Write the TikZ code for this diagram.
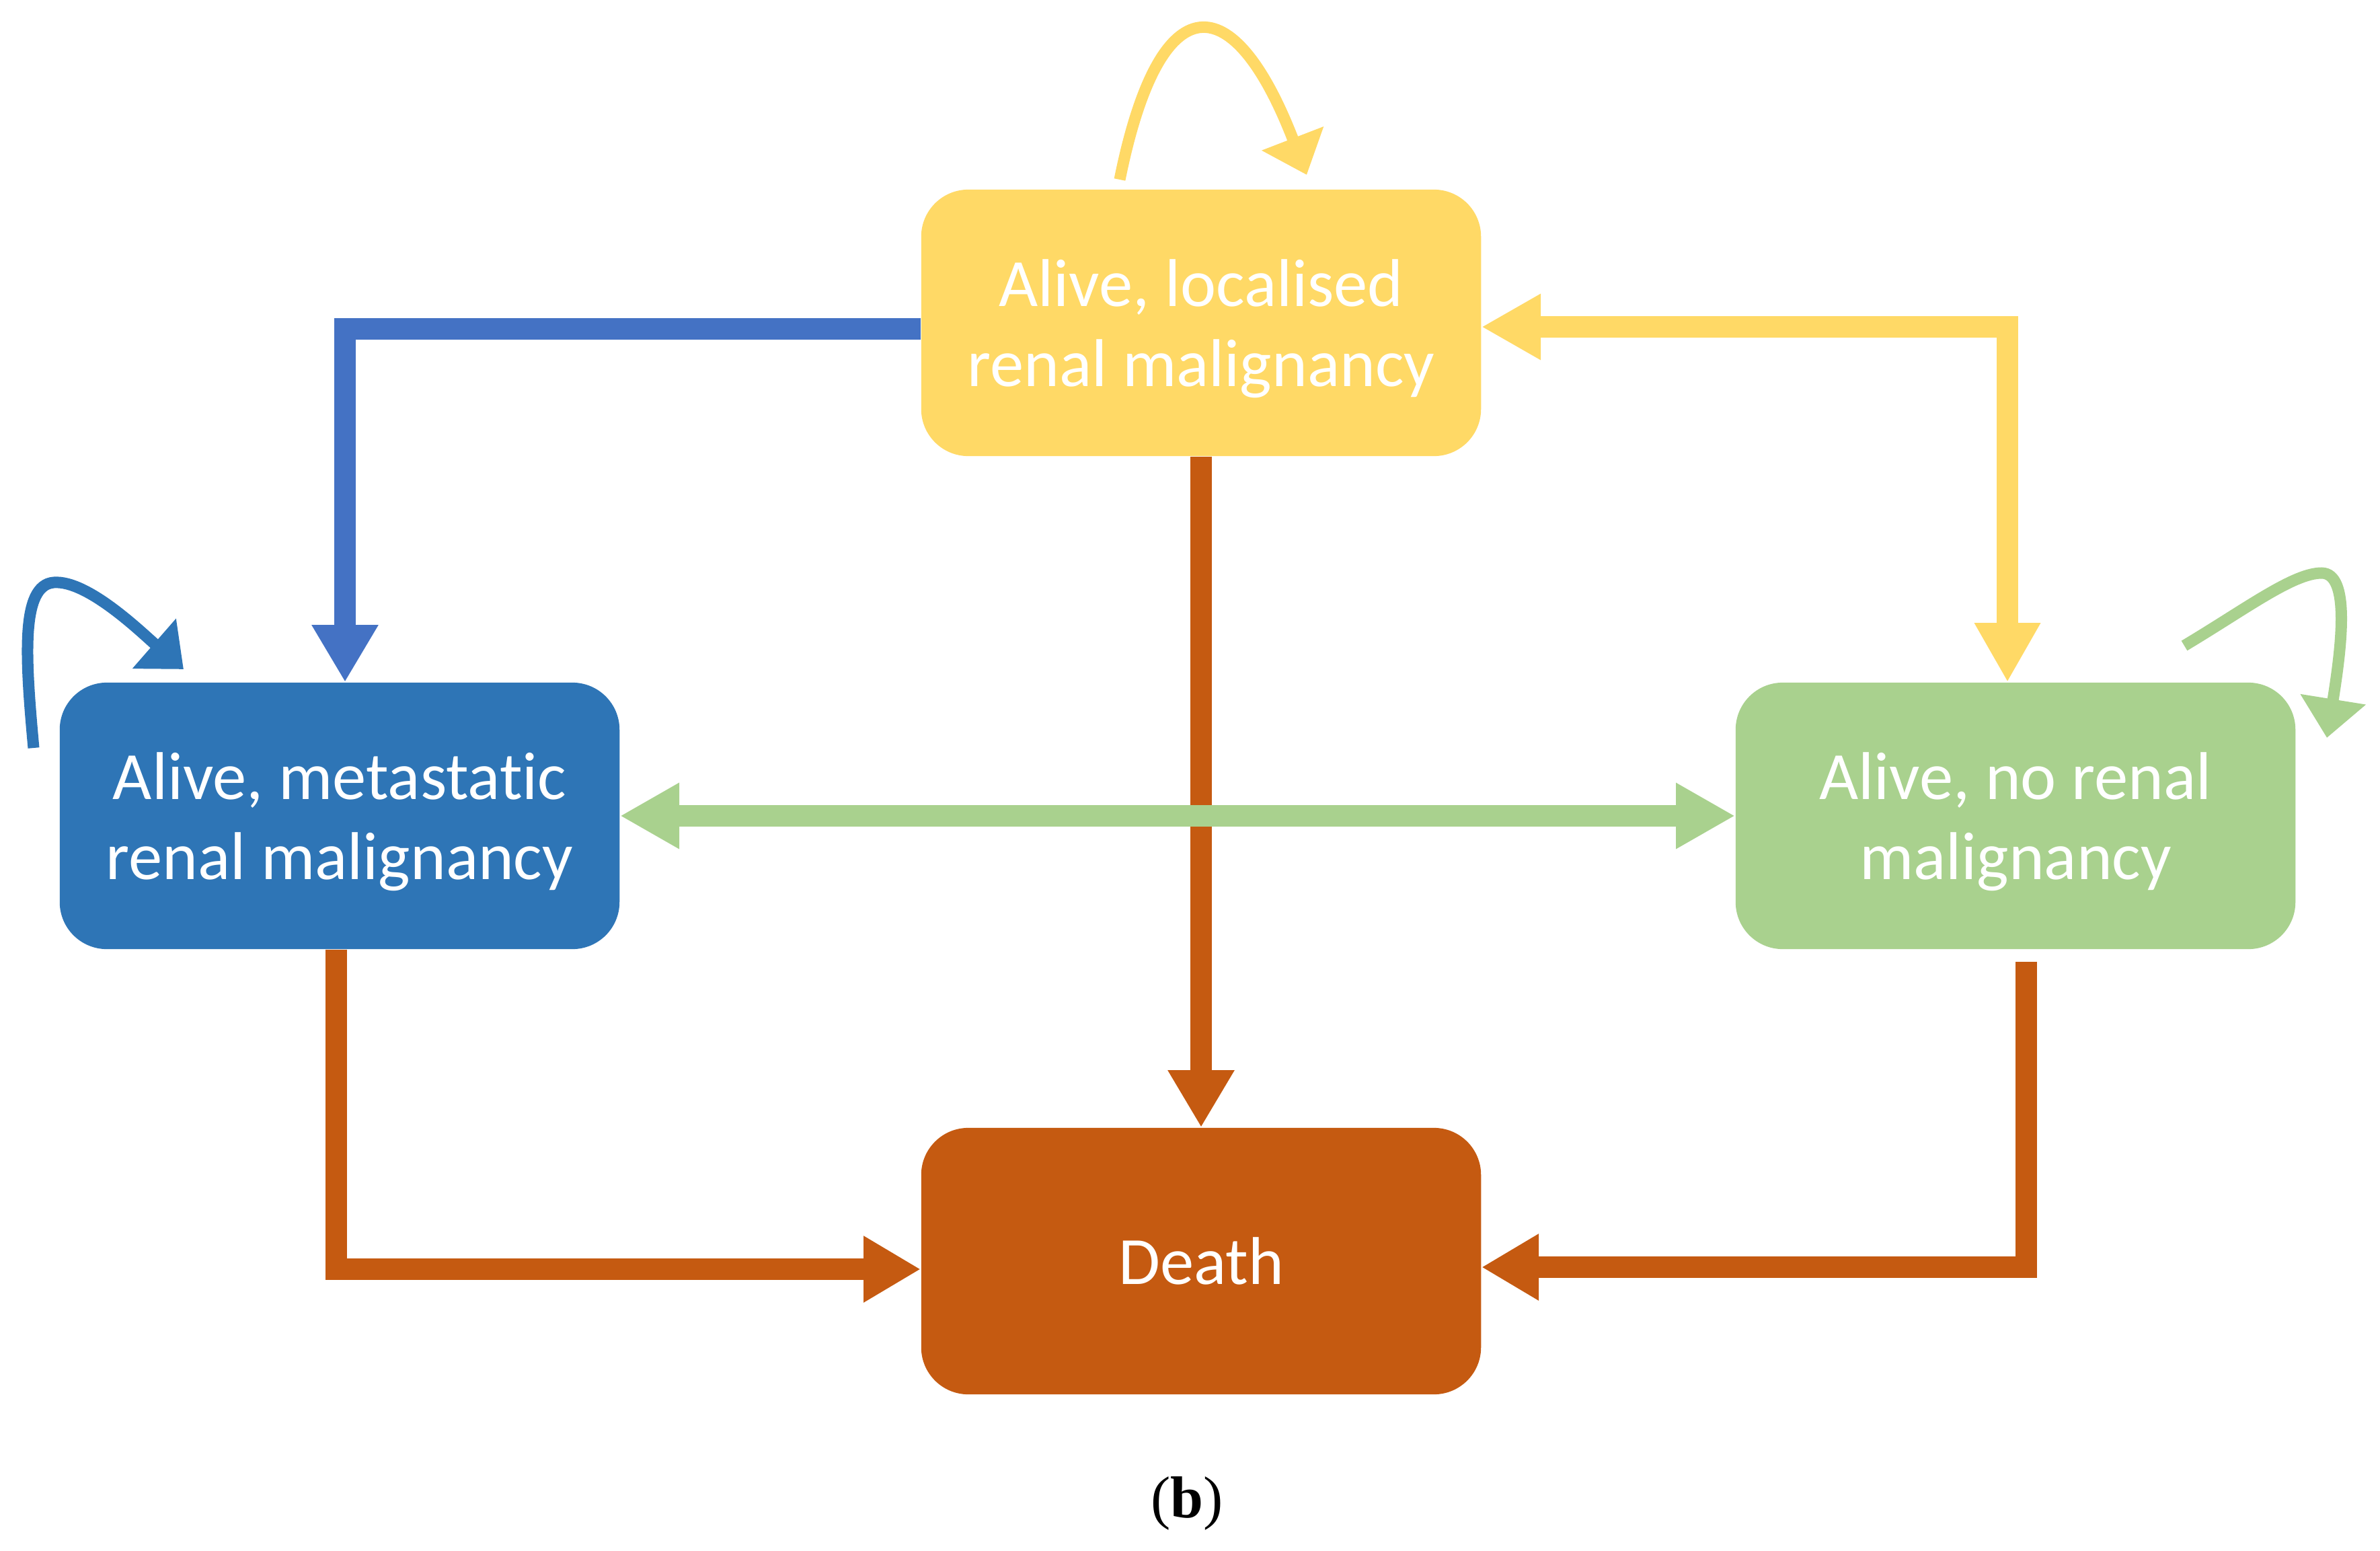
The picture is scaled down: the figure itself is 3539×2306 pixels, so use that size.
\documentclass[tikz,border=0pt]{standalone}
\usepackage{fontspec}
\setmainfont{Carlito}[Ligatures=NoCommon]
\newfontfamily\capfont{Liberation Serif}
\usetikzlibrary{arrows.meta,calc}
\definecolor{cyel}{HTML}{FFD966}
\definecolor{cblue}{HTML}{2E75B6}
\definecolor{cbline}{HTML}{4472C4}
\definecolor{cgreen}{HTML}{A9D18E}
\definecolor{corange}{HTML}{C55A11}
\newcommand{\lowstrut}{\rule{0pt}{0.87cm}}
\begin{document}
\begin{tikzpicture}[x=0.01cm,y=-0.01cm,
  state/.style={rectangle, rounded corners=0.7cm, minimum width=8.32cm, minimum height=3.96cm,
    inner sep=0pt, align=center, text=white, font=\fontsize{28.6}{34}\selectfont},
  conn/.style={line width=0.32cm, line join=miter, -{Triangle[length=0.85cm,width=0.93cm]}},
  bconn/.style={line width=0.32cm, line join=miter, {Triangle[length=0.88cm,width=0.92cm]}-{Triangle[length=0.88cm,width=0.92cm]}},
  selfloop/.style={line width=0.17cm, -{Triangle[length=0.58cm,width=0.95cm]}}
]
\useasboundingbox (0,0) rectangle (3539,2306);
\fill[white] (0,0) rectangle (3539,2306);

\node[state, fill=cyel] (Y) at (1786,480) {\lowstrut Alive, localised\\renal malignancy};
\node[state, fill=cblue] (B) at (505,1213) {\lowstrut Alive, metastatic\\renal malignancy};
\node[state, fill=cgreen] (G) at (2997,1213) {\lowstrut Alive, no renal\\malignancy};
\node[state, fill=corange] (D) at (1786,1875) {Death};

% connectors
\draw[conn, corange] (Y.south) -- (D.north);
\draw[conn, cbline] ($(Y.west)+(0,9)$) -| ($(B.north)+(8,0)$);
\draw[bconn, cyel] ($(G.north)+(-12,0)$) |- ($(Y.east)+(0,6)$);
\draw[bconn, cgreen] (B.east) -- (G.west);
\draw[conn, corange] ($(B.south)+(-5,0)$) |- ($(D.west)+(0,12)$);
\draw[conn, corange] ($(G.south)+(16,18)$) |- ($(D.east)+(0,9)$);

% self loops
\coordinate (ys) at (1665,267);
\coordinate (ye) at (1943,260);
\draw[selfloop, cyel] (ys) .. controls (1725,-30) and (1835,-20) .. (ye);
\coordinate (bs) at (50,1112);
\coordinate (bt) at (80,866);
\coordinate (be) at (273,995);
\draw[selfloop, cblue] (bs) .. controls (38,980) and (30,870) .. (bt) .. controls (130,862) and (210,940) .. (be);
\coordinate (gs) at (3248,960);
\coordinate (gt) at (3452,852);
\coordinate (ge) at (3460,1097);
\draw[selfloop, cgreen] (gs) .. controls (3340,905) and (3410,852) .. (gt) .. controls (3495,852) and (3482,960) .. (ge);

\node[font=\capfont\fontsize{25}{30}\selectfont] (cap) at (1765,2235) {(\textbf{b})};
\end{tikzpicture}
\end{document}
